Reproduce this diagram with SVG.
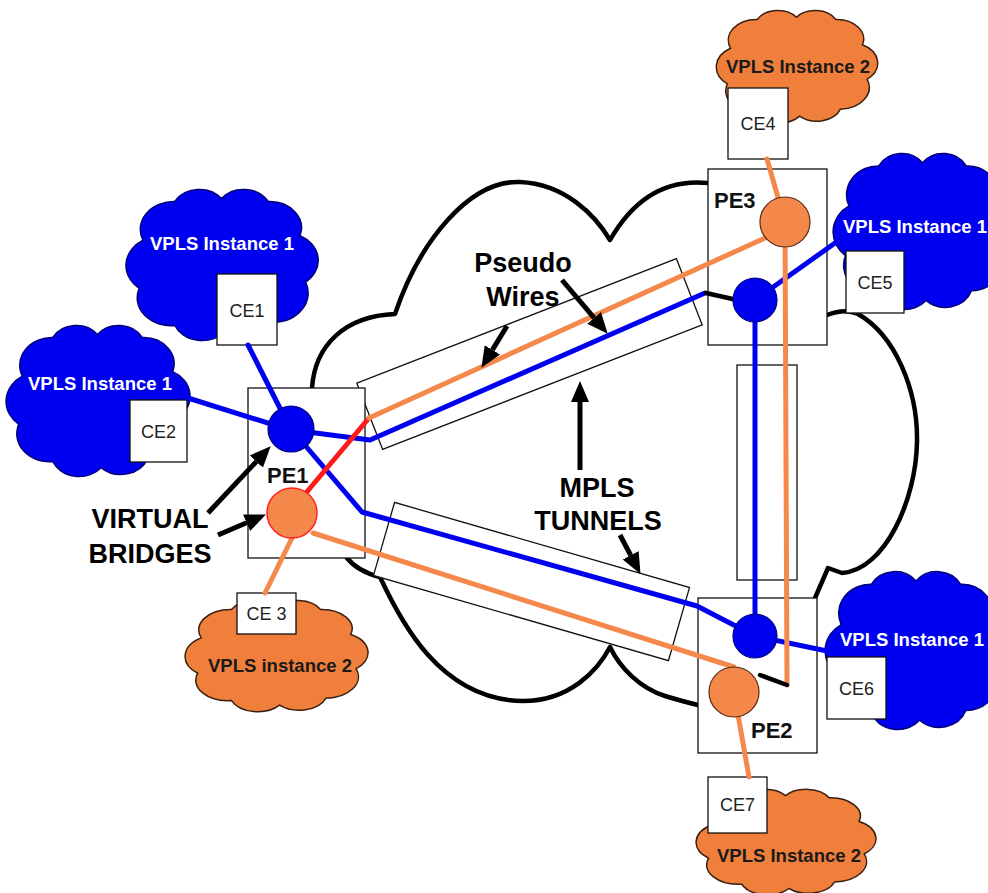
<svg xmlns="http://www.w3.org/2000/svg" xmlns:xlink="http://www.w3.org/1999/xlink" width="988" height="893" viewBox="0 0 988 893">
<style>
.bg{fill:#ffffff}
.big{fill:none;stroke:#000;stroke-width:4.5;stroke-linejoin:round;stroke-linecap:round}
.cb{fill:#0000f0;stroke:#00007a;stroke-width:1.5}
.co{fill:#ef7f3b;stroke:#3a2010;stroke-width:1.5}
.box{fill:#fff;stroke:#111;stroke-width:1.3}
.tun{fill:#fff;stroke:#111;stroke-width:1.3}
.lb{fill:none;stroke:#0000f0;stroke-width:5;stroke-linecap:round;stroke-linejoin:round}
.lo{fill:none;stroke:#f5894b;stroke-width:5;stroke-linecap:round;stroke-linejoin:round}
.lr{fill:none;stroke:#ff1a1a;stroke-width:5;stroke-linecap:round}
.lk{fill:none;stroke:#000;stroke-width:4.5;stroke-linecap:round}
.arr{fill:none;stroke:#000;stroke-width:5;marker-end:url(#ah)}
.nb{fill:#0000f0;stroke:#00007a;stroke-width:1.2}
.no{fill:#f4874a;stroke:#5a2a10;stroke-width:1.2}
.ce{font-family:"Liberation Sans",Arial,sans-serif;font-size:18px;fill:#222;text-anchor:middle}
.pe{font-family:"Liberation Sans",Arial,sans-serif;font-size:22px;font-weight:bold;fill:#111}
.vw{font-family:"Liberation Sans",Arial,sans-serif;font-size:18.5px;font-weight:bold;fill:#fff}
.vk{font-family:"Liberation Sans",Arial,sans-serif;font-size:18.5px;font-weight:bold;fill:#1a1a1a}
.big-t{font-family:"Liberation Sans",Arial,sans-serif;font-size:27px;font-weight:bold;fill:#000;text-anchor:middle}
</style>
<defs>
<path id="cloud" vector-effect="non-scaling-stroke" d="M 8 35 A 18 18 0 0 1 25 10 A 15 15 0 0 1 50 8 A 15 15 0 0 1 75 10 A 17 17 0 0 1 92 32 A 18 18 0 0 1 95 62 A 19 19 0 0 1 78 88 A 16 16 0 0 1 52 94 A 16 16 0 0 1 25 90 A 18 18 0 0 1 6 66 A 19 19 0 0 1 8 35 Z"/>
<marker id="ah" markerUnits="userSpaceOnUse" markerWidth="22" markerHeight="20" refX="0" refY="9" orient="auto" viewBox="0 0 22 18">
<path d="M0,0 L21,9 L0,18 Z" fill="#000"/>
</marker>
</defs>
<rect class="bg" x="0" y="0" width="988" height="893"/>

<g id="mpls-cloud">
<path class="big" d="M 312 388 C 315 345, 345 316, 395 314 C 420 240, 470 180, 520 182 C 565 184, 595 215, 610 240 C 630 205, 660 178, 708 183"/>
<path class="big" d="M 827 315 Q 845 308 858 314 C 895 335, 918 390, 917 442 C 916 500, 885 570, 842 573 L 828 568 L 815 598"/>
<path class="big" d="M 347 558 C 355 568, 368 574, 380 577 C 400 620, 440 700, 523 701 C 570 701, 598 670, 610 647 C 620 668, 640 688, 665 696 Q 685 702, 698 705"/>
</g>

<g id="vpls-cloud-ce1"><use xlink:href="#cloud" href="#cloud" class="cb" transform="translate(128,186) scale(1.87,1.55)"/>
<text class="vw" x="222" y="250" text-anchor="middle">VPLS Instance 1</text></g>
<g id="vpls-cloud-ce2"><use xlink:href="#cloud" href="#cloud" class="cb" transform="translate(8,322) scale(1.79,1.55)"/>
<text class="vw" x="100" y="390" text-anchor="middle">VPLS Instance 1</text></g>
<g id="vpls-cloud-ce5"><use xlink:href="#cloud" href="#cloud" class="cb" transform="translate(835,150) scale(1.75,1.6)"/>
<text class="vw" x="843" y="233">VPLS Instance 1</text></g>
<g id="vpls-cloud-ce6"><use xlink:href="#cloud" href="#cloud" class="cb" transform="translate(827,568) scale(1.78,1.62)"/>
<text class="vw" x="840" y="646">VPLS Instance 1</text></g>
<g id="vpls-cloud-ce4"><use xlink:href="#cloud" href="#cloud" class="co" transform="translate(718,8) scale(1.57,1.15)"/>
<text class="vk" x="798" y="73" text-anchor="middle">VPLS Instance 2</text></g>
<g id="vpls-cloud-ce3"><use xlink:href="#cloud" href="#cloud" class="co" transform="translate(187,598) scale(1.78,1.14)"/>
<text class="vk" x="280" y="672" text-anchor="middle">VPLS instance 2</text></g>
<g id="vpls-cloud-ce7"><use xlink:href="#cloud" href="#cloud" class="co" transform="translate(698,787) scale(1.75,1.08)"/>
<text class="vk" x="789" y="862" text-anchor="middle">VPLS Instance 2</text></g>

<g id="tunnel-upper"><rect class="tun" x="-171.5" y="-35.5" width="343" height="71" transform="translate(529.5,354) rotate(-21.3)"/></g>
<g id="tunnel-lower"><rect class="tun" x="-153.5" y="-38" width="307" height="76" transform="translate(531.5,581.5) rotate(16.1)"/></g>
<g id="tunnel-vertical"><rect class="tun" x="737" y="365" width="60" height="215"/></g>

<g id="pe1"><rect class="box" x="248" y="388" width="117" height="170"/></g>
<g id="pe3"><rect class="box" x="708" y="169" width="119" height="176"/></g>
<g id="pe2"><rect class="box" x="698" y="598" width="119" height="155"/></g>

<g id="ce1"><rect class="box" x="217" y="274" width="60" height="71"/><text class="ce" x="247" y="317">CE1</text></g>
<g id="ce2"><rect class="box" x="130" y="400" width="57" height="62"/><text class="ce" x="158.5" y="438">CE2</text></g>
<g id="ce3"><rect class="box" x="237" y="593" width="59" height="41"/><text class="ce" x="266.5" y="620">CE 3</text></g>
<g id="ce4"><rect class="box" x="728" y="88" width="60" height="71"/><text class="ce" x="758" y="130">CE4</text></g>
<g id="ce5"><rect class="box" x="846" y="251" width="58" height="62"/><text class="ce" x="875" y="289">CE5</text></g>
<g id="ce6"><rect class="box" x="827" y="657" width="59" height="62"/><text class="ce" x="856.5" y="695">CE6</text></g>
<g id="ce7"><rect class="box" x="708" y="777" width="59" height="56"/><text class="ce" x="737.5" y="811">CE7</text></g>

<g id="connectors">
<line class="lb" x1="248" y1="345" x2="290" y2="428"/>
<line class="lb" x1="188" y1="398" x2="290" y2="430"/>
<polyline class="lb" points="292,430 370,440 705,293"/>
<line class="lk" x1="706" y1="293" x2="737" y2="300"/>
<polyline class="lb" points="292,430 362,512 697,606 755,636"/>
<line class="lb" x1="755" y1="300" x2="755" y2="636"/>
<line class="lb" x1="755" y1="300" x2="835" y2="243"/>
<line class="lb" x1="755" y1="636" x2="827" y2="651"/>
<line class="lr" x1="300" y1="500" x2="369" y2="418"/>
<line class="lo" x1="369" y1="418" x2="765" y2="238"/>
<line class="lo" x1="313" y1="533" x2="734" y2="667"/>
<line class="lo" x1="292" y1="538" x2="265" y2="593"/>
<line class="lo" x1="767" y1="159" x2="785" y2="222"/>
<line class="lo" x1="785" y1="222" x2="787" y2="685"/>
<line class="lk" x1="760" y1="675" x2="787" y2="685"/>
<line class="lo" x1="734" y1="692" x2="749" y2="777"/>
</g>

<g id="vb-pe1-blue"><circle class="nb" cx="291" cy="429" r="23"/></g>
<g id="vb-pe1-orange"><circle class="no" cx="292" cy="513" r="25" style="stroke:#ff2020;stroke-width:1.5"/></g>
<g id="vb-pe3-orange"><circle class="no" cx="785" cy="222" r="25"/></g>
<g id="vb-pe3-blue"><circle class="nb" cx="755" cy="300" r="22"/></g>
<g id="vb-pe2-blue"><circle class="nb" cx="755" cy="636" r="22"/></g>
<g id="vb-pe2-orange"><circle class="no" cx="734" cy="692" r="25"/></g>

<g id="pe-labels">
<text class="pe" x="267" y="483">PE1</text>
<text class="pe" x="714" y="208">PE3</text>
<text class="pe" x="751" y="738">PE2</text>
</g>

<g id="annotations">
<text class="big-t" x="150" y="528">VIRTUAL</text>
<text class="big-t" x="150" y="563">BRIDGES</text>
<text class="big-t" x="523" y="272">Pseudo</text>
<text class="big-t" x="523" y="306">Wires</text>
<text class="big-t" x="597" y="497">MPLS</text>
<text class="big-t" x="598" y="530">TUNNELS</text>
<line class="arr" x1="208" y1="513" x2="256.3" y2="461.6"/>
<line class="arr" x1="218" y1="535" x2="246.6" y2="522.8"/>
<line class="arr" x1="507" y1="326" x2="492.4" y2="349.9"/>
<line class="arr" x1="562" y1="280" x2="594.1" y2="317.8"/>
<line class="arr" x1="580" y1="470" x2="580" y2="402"/>
<line class="arr" x1="620" y1="535" x2="630.7" y2="555.3"/>
</g>
</svg>
